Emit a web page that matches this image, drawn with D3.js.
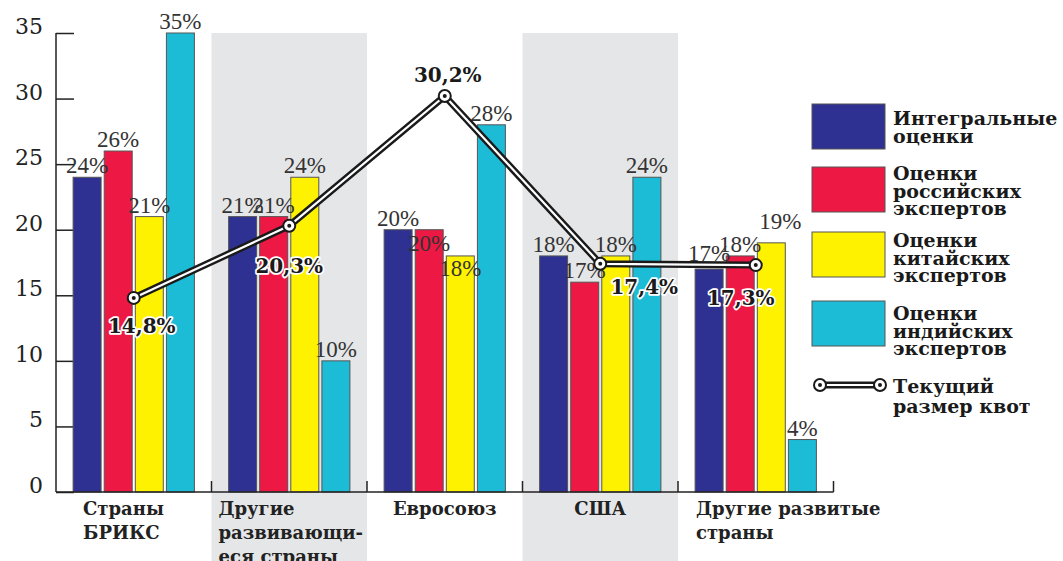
<!DOCTYPE html>
<meta charset="utf-8">
<style>
  body { margin: 0; background: #fff; }
  svg { display: block; }
</style>
<body>
<script src="https://cdnjs.cloudflare.com/ajax/libs/d3/7.8.5/d3.min.js"></script>
<script>

// --- data ---
var categories = ["Страны БРИКС", "Другие развивающиеся страны", "Евросоюз", "США", "Другие развитые страны"];
var categoryLines = [["Страны", "БРИКС"], ["Другие", "развивающи-", "еся страны"], ["Евросоюз"], ["США"], ["Другие развитые", "страны"]];

var seriesNames = ["Интегральные оценки", "Оценки российских экспертов", "Оценки китайских экспертов", "Оценки индийских экспертов"];
var integral = [24, 21, 20, 18, 17];
var russian  = [26, 21, 20, 16, 18];
var chinese  = [21, 24, 18, 18, 19];
var indian   = [35, 10, 28, 24, 4];
// printed labels (some differ from bar height in the original)
var integralLabels = ["24%", "21%", "20%", "18%", "17%"];
var russianLabels  = ["26%", "21%", "20%", "17%", "18%"];
var chineseLabels  = ["21%", "24%", "18%", "18%", "19%"];
var indianLabels   = ["35%", "10%", "28%", "24%", "4%"];

var quota = [14.8, 20.3, 30.2, 17.4, 17.3];
var quotaLabels = ["14,8%", "20,3%", "30,2%", "17,4%", "17,3%"];
var quotaName = ["Текущий", "размер квот"];

var yTicks = [0, 5, 10, 15, 20, 25, 30, 35];

var legendLines = [["Интегральные", "оценки"], ["Оценки", "российских", "экспертов"], ["Оценки", "китайских", "экспертов"], ["Оценки", "индийских", "экспертов"]];

var colors = ["#2e3192", "#ed1944", "#fff200", "#1cbcd7"];

var series = [
  { name: seriesNames[0], values: integral, labels: integralLabels },
  { name: seriesNames[1], values: russian,  labels: russianLabels },
  { name: seriesNames[2], values: chinese,  labels: chineseLabels },
  { name: seriesNames[3], values: indian,   labels: indianLabels }
];

var width = 1063, height = 561;

var svg = d3.select("body").append("svg")
    .attr("width", width)
    .attr("height", height);

var x0 = d3.scaleBand()
    .domain(categories)
    .range([56, 833.5])
    .padding(0);

var x1 = d3.scaleBand()
    .domain(seriesNames)
    .range([0, x0.bandwidth()])
    .paddingInner(0.1)
    .paddingOuter(0.55);

var y = d3.scaleLinear()
    .domain([0, 35])
    .range([492, 33]);

var color = d3.scaleOrdinal().domain(seriesNames).range(colors);

// grey bands behind 2nd and 4th groups
svg.selectAll("rect.band")
    .data(categories.filter(function(d, i) { return i % 2 == 1; }))
    .enter().append("rect")
    .attr("class", "band")
    .attr("x", function(d) { return x0(d); })
    .attr("y", y(35))
    .attr("width", x0.bandwidth())
    .attr("height", height - y(35))
    .attr("fill", "#e5e6e8");

// y axis: ticks point inward, labels sit above the tick
var yAxis = svg.append("g")
    .attr("transform", "translate(56,0)")
    .call(d3.axisRight(y).tickValues(yTicks).tickSize(18).tickFormat(""));
yAxis.select(".domain").remove();
yAxis.selectAll(".tick line").attr("stroke", "#222").attr("stroke-width", 1.5);

svg.append("line")
    .attr("x1", 56).attr("x2", 56)
    .attr("y1", y(35)).attr("y2", y(0))
    .attr("stroke", "#222").attr("stroke-width", 1.5);

svg.selectAll("text.ytick")
    .data(yTicks)
    .enter().append("text")
    .attr("class", "ytick")
    .attr("x", 43)
    .attr("y", function(d) { return y(d) + 1; })
    .attr("text-anchor", "end")
    .style("font-family", "'DejaVu Serif', serif")
    .style("font-size", "22px")
    .attr("fill", "#222")
    .text(function(d) { return d; });

// bars
var groups = svg.selectAll("g.group")
    .data(categories)
    .enter().append("g")
    .attr("class", "group")
    .attr("transform", function(d) { return "translate(" + x0(d) + ",0)"; });

groups.selectAll("rect")
    .data(function(c, i) { return series.map(function(s) { return { s: s.name, v: s.values[i] }; }); })
    .enter().append("rect")
    .attr("x", function(d) { return x1(d.s); })
    .attr("y", function(d) { return y(d.v); })
    .attr("width", x1.bandwidth())
    .attr("height", function(d) { return y(0) - y(d.v); })
    .attr("fill", function(d) { return color(d.s); })
    .attr("stroke", "#555")
    .attr("stroke-width", 1);

// bar labels, a few nudged where they collide in the original
var nudge = { "2,1": [0, 25], "2,2": [0, 24], "4,0": [0, -4], "4,2": [9, -10] };

groups.selectAll("text.val")
    .data(function(c, i) { return series.map(function(s, j) { return { s: s.name, v: s.values[i], t: s.labels[i], k: i + "," + j }; }); })
    .enter().append("text")
    .attr("class", "val")
    .attr("x", function(d) { return x1(d.s) + x1.bandwidth() / 2 + (nudge[d.k] ? nudge[d.k][0] : 0); })
    .attr("y", function(d) { return y(d.v) - 4 + (nudge[d.k] ? nudge[d.k][1] : 0); })
    .attr("text-anchor", "middle")
    .style("font-family", "'Liberation Serif', serif")
    .style("font-size", "23px")
    .attr("fill", "#333")
    .text(function(d) { return d.t; });

// baseline and group separators
svg.append("line")
    .attr("x1", 56).attr("x2", 833.5)
    .attr("y1", y(0)).attr("y2", y(0))
    .attr("stroke", "#222").attr("stroke-width", 1.5);

svg.selectAll("line.sep")
    .data(categories)
    .enter().append("line")
    .attr("class", "sep")
    .attr("x1", function(d) { return x0(d) + x0.bandwidth(); })
    .attr("x2", function(d) { return x0(d) + x0.bandwidth(); })
    .attr("y1", y(0) - 11).attr("y2", y(0))
    .attr("stroke", "#222").attr("stroke-width", 1.5);

// category labels
var catPos = [[27, "start"], [7, "start"], [null, "middle"], [null, "middle"], [18, "start"]];
categories.forEach(function(c, i) {
  var t = svg.append("text")
      .attr("text-anchor", catPos[i][1])
      .style("font-family", "'DejaVu Serif', serif")
      .style("font-weight", "bold")
      .style("font-size", "18px")
      .attr("fill", "#222");
  var xx = catPos[i][0] == null ? x0(c) + x0.bandwidth() / 2 : x0(c) + catPos[i][0];
  categoryLines[i].forEach(function(line, k) {
    t.append("tspan").attr("x", xx).attr("y", 515 + k * 24).text(line);
  });
});

// quota line: black outer, white inner
var qx = function(d, i) { return x0(categories[i]) + x0.bandwidth() / 2; };
var line = d3.line().x(qx).y(function(d) { return y(d); });

svg.append("path").datum(quota)
    .attr("d", line).attr("fill", "none")
    .attr("stroke", "#1a1a1a").attr("stroke-width", 7).attr("stroke-linejoin", "miter");
svg.append("path").datum(quota)
    .attr("d", line).attr("fill", "none")
    .attr("stroke", "#fff").attr("stroke-width", 2.2).attr("stroke-linejoin", "miter");

svg.selectAll("circle.pt")
    .data(quota).enter().append("circle")
    .attr("class", "pt")
    .attr("cx", qx).attr("cy", function(d) { return y(d); })
    .attr("r", 6).attr("fill", "#fff").attr("stroke", "#1a1a1a").attr("stroke-width", 2);
svg.selectAll("circle.dot")
    .data(quota).enter().append("circle")
    .attr("class", "dot")
    .attr("cx", qx).attr("cy", function(d) { return y(d); })
    .attr("r", 2).attr("fill", "#1a1a1a");

var qOff = [[8, 35], [0, 47], [3, -14], [44, 30], [-15, 40]];
svg.selectAll("text.q")
    .data(quota).enter().append("text")
    .attr("class", "q")
    .attr("x", function(d, i) { return qx(d, i) + qOff[i][0]; })
    .attr("y", function(d, i) { return y(d) + qOff[i][1]; })
    .attr("text-anchor", "middle")
    .style("font-family", "'DejaVu Serif', serif")
    .style("font-weight", "bold")
    .style("font-size", "20px")
    .style("paint-order", "stroke")
    .attr("stroke", "#fff").attr("stroke-width", 3.5).attr("stroke-linejoin", "round")
    .attr("fill", "#1a1a1a")
    .text(function(d, i) { return quotaLabels[i]; });

// legend
var legTop = [104, 167, 232, 301];
var legText = [125, 180, 247, 320];
var legend = svg.append("g")
    .style("font-family", "'DejaVu Serif', serif")
    .style("font-weight", "bold")
    .style("font-size", "19px")
    .attr("fill", "#1a1a1a");

seriesNames.forEach(function(s, i) {
  legend.append("rect")
      .attr("x", 812).attr("y", legTop[i])
      .attr("width", 73).attr("height", 45)
      .attr("fill", color(s)).attr("stroke", "#555");
  var t = legend.append("text");
  legendLines[i].forEach(function(l, k) {
    t.append("tspan").attr("x", 893).attr("y", legText[i] + k * 17.5).text(l);
  });
});

var ly = 385;
legend.append("line").attr("x1", 820).attr("x2", 880).attr("y1", ly).attr("y2", ly)
    .attr("stroke", "#1a1a1a").attr("stroke-width", 7);
legend.append("line").attr("x1", 820).attr("x2", 880).attr("y1", ly).attr("y2", ly)
    .attr("stroke", "#fff").attr("stroke-width", 2.2);
[820, 880].forEach(function(cx) {
  legend.append("circle").attr("cx", cx).attr("cy", ly).attr("r", 6)
      .attr("fill", "#fff").attr("stroke", "#1a1a1a").attr("stroke-width", 2);
  legend.append("circle").attr("cx", cx).attr("cy", ly).attr("r", 2).attr("fill", "#1a1a1a");
});
var lt = legend.append("text");
quotaName.forEach(function(l, k) {
  lt.append("tspan").attr("x", 893).attr("y", 393 + k * 20).text(l);
});

</script>
</body>
